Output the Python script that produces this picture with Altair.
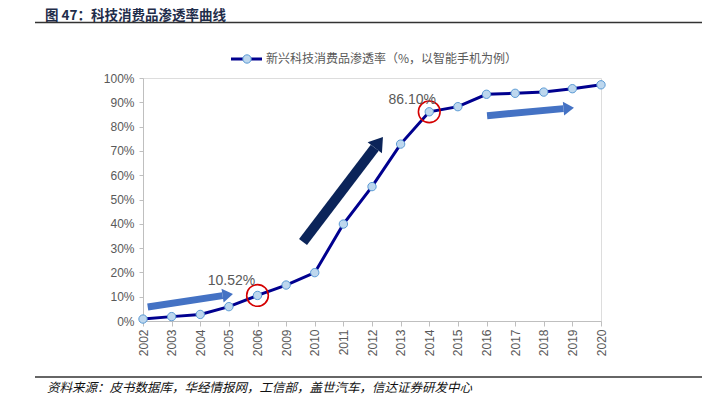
import altair as alt
import pandas as pd

# ---- data ----
years = ["2002", "2003", "2004", "2005", "2006", "2009", "2010", "2011", "2012",
         "2013", "2014", "2015", "2016", "2017", "2018", "2019", "2020"]
penetration = [0.8, 1.8, 2.7, 5.9, 10.52, 14.8, 19.9, 39.9, 55.3, 72.8, 86.1,
               88.2, 93.3, 93.7, 94.2, 95.6, 97.2]
highlight_years = ["2006", "2014"]
highlight_labels = ["10.52%", "86.10%"]
label_dx = [-26, -17]
label_dy = [-14, -12]

# arrows (annotation): tail and head-base positions in (index, %) space
arrow_id = ["a1", "a2", "a3"]
arrow_tail_x = [0.165, 5.59, 12.02]
arrow_tail_y = [5.76, 32.5, 84.5]
arrow_base_x = [2.78, 8.097, 14.69]
arrow_base_y = [10.45, 71.3, 87.4]
arrow_angle = [351.3, 307.3, 354.7]
arrow_color = ["#4472C4", "#0B2459", "#4472C4"]
arrow_width = [7, 10, 7]
arrow_head = [196, 324, 196]

title_text = "图 47：科技消费品渗透率曲线"
legend_text = "新兴科技消费品渗透率（%，以智能手机为例）"
source_text = "资料来源：皮书数据库，华经情报网，工信部，盖世汽车，信达证券研发中心"

# ---- tables ----
df = pd.DataFrame({"idx": list(range(len(years))), "year": years, "value": penetration})
hl = df[df["year"].isin(highlight_years)].copy()
hl["label"] = highlight_labels

shaft_rows = []
for i, a in enumerate(arrow_id):
    shaft_rows.append({"id": a, "o": 0, "x": arrow_tail_x[i], "y": arrow_tail_y[i],
                       "c": arrow_color[i], "w": arrow_width[i]})
    shaft_rows.append({"id": a, "o": 1, "x": arrow_base_x[i], "y": arrow_base_y[i],
                       "c": arrow_color[i], "w": arrow_width[i]})
shafts = pd.DataFrame(shaft_rows)
heads = pd.DataFrame({"id": arrow_id, "x": arrow_base_x, "y": arrow_base_y,
                      "angle": arrow_angle, "c": arrow_color, "s": arrow_head})

label_expr = "[" + ",".join("'%s'" % y for y in years) + "][datum.value]"

xscale = alt.Scale(domain=[0, len(years) - 1], nice=False, zero=False)
yscale = alt.Scale(domain=[0, 100], nice=False)

x_axis = alt.Axis(values=list(range(len(years))), labelExpr=label_expr, grid=False,
                  labelAngle=270, labelColor="#595959", labelFontSize=12,
                  labelFont="Liberation Sans", domainColor="#BFBFBF", tickColor="#BFBFBF",
                  tickSize=5, labelPadding=3, title=None)
y_axis = alt.Axis(values=list(range(0, 101, 10)), labelExpr="datum.value + '%'", grid=False,
                  labelColor="#595959", labelFontSize=12, labelFont="Liberation Sans",
                  domainColor="#BFBFBF", tickColor="#BFBFBF", tickSize=4, labelPadding=5,
                  title=None)

X = alt.X("idx:Q", scale=xscale, axis=x_axis)
Y = alt.Y("value:Q", scale=yscale, axis=y_axis)

line = alt.Chart(df).mark_line(color="#00008F", strokeWidth=3).encode(x=X, y=Y)
pts = alt.Chart(df).mark_point(shape="circle", filled=True, size=70, fill="#BDD7EE",
                               stroke="#5B9BD5", strokeWidth=1, opacity=1).encode(x=X, y=Y)
rings = alt.Chart(hl).mark_point(shape="circle", size=470, stroke="#D40000",
                                 strokeWidth=1.6, filled=False, opacity=1).encode(x=X, y=Y)

label_layers = []
for i, yr in enumerate(highlight_years):
    label_layers.append(
        alt.Chart(hl[hl["year"] == yr]).mark_text(
            font="Liberation Sans", fontSize=14, color="#595959",
            dx=label_dx[i], dy=label_dy[i]).encode(x=X, y=Y, text="label:N"))

ax = alt.X("x:Q", scale=xscale, axis=x_axis)
ay = alt.Y("y:Q", scale=yscale, axis=y_axis)
shaft = alt.Chart(shafts).mark_line(strokeCap="butt").encode(
    x=ax, y=ay, detail="id:N", order="o:Q",
    color=alt.Color("c:N", scale=None), strokeWidth=alt.StrokeWidth("w:Q", scale=None))
head = alt.Chart(heads).mark_point(shape="M0,-1L1.5,0L0,1Z", filled=True, opacity=1,
                                   strokeWidth=0).encode(
    x=ax, y=ay, angle=alt.Angle("angle:Q", scale=None),
    color=alt.Color("c:N", scale=None), size=alt.Size("s:Q", scale=None))

one = pd.DataFrame({"t": [title_text]})
title = alt.Chart(one).mark_text(align="left", baseline="middle", font="Noto Sans CJK SC",
                                 fontWeight="bold", fontSize=13.5,
                                 color="#1F2D4A").encode(
    x=alt.value(-98), y=alt.value(-62.3), text="t:N")
hrule = alt.Chart(one).mark_rule(color="#333333", strokeWidth=1.5).encode(
    x=alt.value(-108), x2=alt.value(562), y=alt.value(-55.5))
frule = alt.Chart(one).mark_rule(color="#333333", strokeWidth=1.5).encode(
    x=alt.value(-108), x2=alt.value(562), y=alt.value(299))
src = alt.Chart(pd.DataFrame({"t": [source_text]})).mark_text(
    align="left", baseline="middle", font="Noto Sans CJK SC", fontStyle="italic",
    fontSize=12.5, color="#111111").encode(
    x=alt.value(-96), y=alt.value(309.5), text="t:N")

leg_line = alt.Chart(one).mark_rule(color="#00008F", strokeWidth=3).encode(
    x=alt.value(88), x2=alt.value(119), y=alt.value(-19))
leg_pt = alt.Chart(one).mark_point(shape="circle", filled=True, size=70, fill="#BDD7EE",
                                   stroke="#5B9BD5", strokeWidth=1, opacity=1).encode(
    x=alt.value(104), y=alt.value(-19))
leg_txt = alt.Chart(pd.DataFrame({"t": [legend_text]})).mark_text(
    align="left", baseline="middle", font="Noto Sans CJK SC", fontSize=12,
    color="#595959").encode(x=alt.value(123), y=alt.value(-19), text="t:N")

chart = alt.layer(
    shaft, head, line, pts, rings, *label_layers, title, hrule, frule, src,
    leg_line, leg_pt, leg_txt
).properties(
    width=458, height=243,
    autosize=alt.AutoSizeParams(type="none"),
    padding={"left": 135, "top": 70, "right": 101, "bottom": 76},
).configure_view(stroke=None).configure(background="white")

chart.save("out.html", embed_options={"renderer": "svg", "actions": False})
